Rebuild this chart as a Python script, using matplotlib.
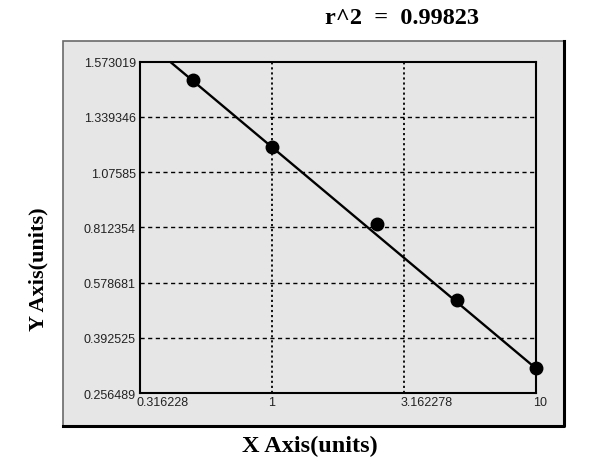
import numpy as np
import matplotlib
matplotlib.use('Agg')
import matplotlib.pyplot as plt
import matplotlib.transforms as mtransforms
from matplotlib.patches import Rectangle
from matplotlib.lines import Line2D

plt.rcParams["font.family"] = "Liberation Sans"

# data
x_points = [0.5, 1.0, 2.5, 5.0, 10.0]
y_points = [1.497, 1.197, 0.828, 0.52, 0.317]
fit_x = [0.411, 10.0]
fit_y = [1.573019, 0.317]
r2_text = "r^2  =  0.99823"

x_ticks = [0.316228, 1, 3.162278, 10]
x_tick_labels = ['0.316228', '1', '3.162278', '10']
y_ticks = [0.256489, 0.392525, 0.578681, 0.812354, 1.07585, 1.339346, 1.573019]
y_tick_labels = ['0.256489', '0.392525', '0.578681', '0.812354', '1.07585', '1.339346', '1.573019']

# y axis in the original spaces its ticks evenly
y_pos = np.arange(len(y_ticks), dtype=float)
def fwd(v):
    return np.interp(v, y_ticks, y_pos)
def inv(p):
    return np.interp(p, y_pos, y_ticks)

fig = plt.figure(figsize=(6, 4.77), dpi=100)

# grey panel behind the plot
panel_col = '#e6e6e6'
fig.patches.append(Rectangle((0.105, 0.105), 0.835, 0.807, transform=fig.transFigure,
                             facecolor=panel_col, edgecolor='#6a6a6a', linewidth=1.2, zorder=0))
fig.lines.append(Line2D([0.105, 0.940, 0.940], [0.105, 0.105, 0.912], transform=fig.transFigure,
                        color='black', linewidth=2.2, zorder=1))

ax = fig.add_axes([0.2333, 0.174, 0.66, 0.6946])
ax.set_zorder(5)
ax.set_facecolor(panel_col)
ax.set_xscale('log')
ax.set_yscale('function', functions=(fwd, inv))
ax.set_xlim(0.316228, 10)
ax.set_ylim(0.256489, 1.573019)

for xv in x_ticks[1:-1]:
    ax.axvline(xv, color='black', linestyle=(0, (1.2, 1.6)), linewidth=1.3, zorder=1)
for yv in y_ticks[1:-1]:
    ax.axhline(yv, color='black', linestyle=(0, (3, 2.5)), linewidth=1.0, zorder=1)

ax.plot(fit_x, fit_y, color='black', linewidth=1.7, zorder=3)
ax.plot(x_points, y_points, 'o', color='black', markersize=9, zorder=4, clip_on=False)

ax.set_xticks(x_ticks)
ax.set_xticklabels(x_tick_labels)
ax.xaxis.set_minor_locator(matplotlib.ticker.NullLocator())
ax.set_yticks(y_ticks)
ax.set_yticklabels(y_tick_labels)
ax.yaxis.set_minor_locator(matplotlib.ticker.NullLocator())
ax.tick_params(length=0, labelsize=9, colors='#222222', pad=2)
ax.tick_params(axis='y', pad=3)

shift = mtransforms.ScaledTranslation(-3 / 100, 0, fig.dpi_scale_trans)
for i, lab in enumerate(ax.get_xticklabels()):
    if i == 1:
        continue
    lab.set_horizontalalignment('left')
    lab.set_transform(lab.get_transform() + shift)

for s in ax.spines.values():
    s.set_linewidth(1.5)
    s.set_color('black')

fig.text(402 / 600, 1 - 18 / 477, r2_text, ha='center', va='center',
         fontsize=17.5, fontweight='bold', family='Liberation Serif')
fig.text(310 / 600, 1 - 446 / 477, 'X Axis(units)', ha='center', va='center',
         fontsize=17.5, fontweight='bold', family='Liberation Serif')
fig.text(38 / 600, 1 - 269 / 477, 'Y Axis(units)', ha='center', va='center', rotation=90,
         fontsize=16, fontweight='bold', family='Liberation Serif')

fig.savefig('out.png', dpi=100)
